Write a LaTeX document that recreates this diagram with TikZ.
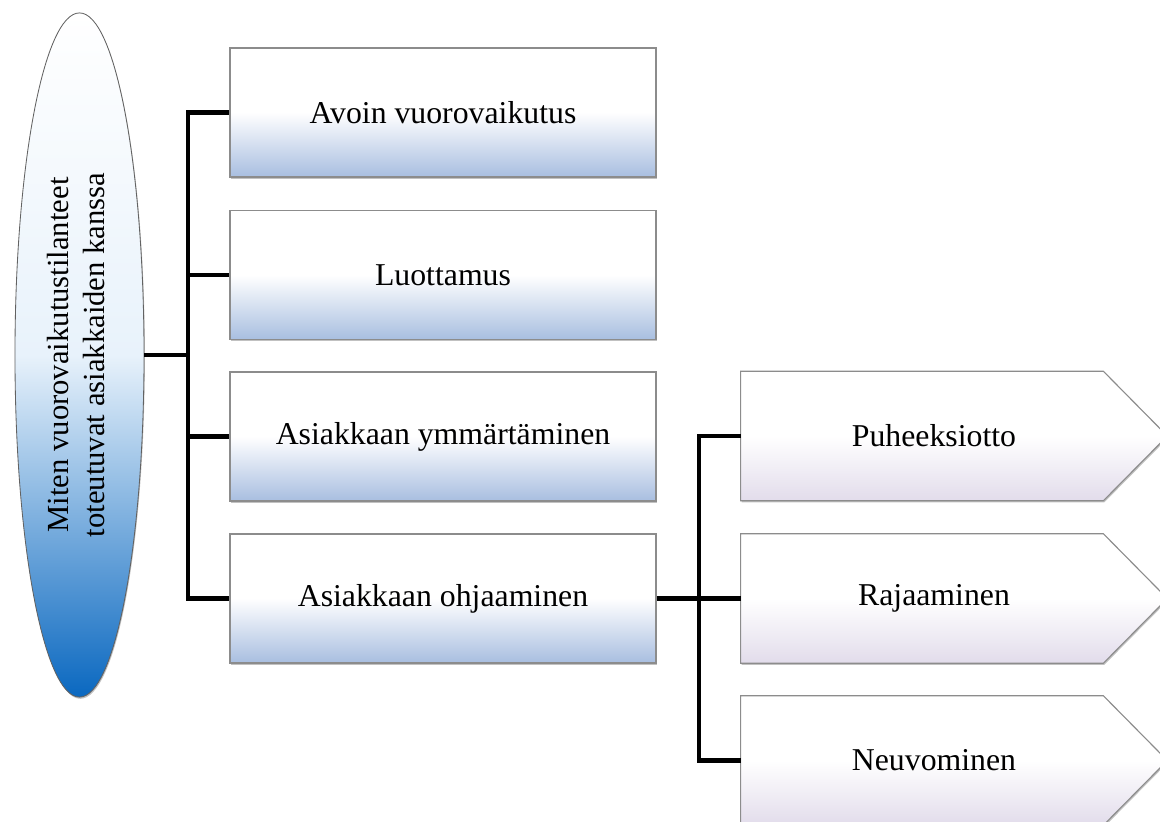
\documentclass[tikz,border=0pt]{standalone}
\usepackage{fontspec}
\setmainfont{Liberation Serif}
\usepackage{tikz}
\usetikzlibrary{positioning,shapes,shadows,backgrounds}
\definecolor{boxblue}{RGB}{168,190,224}
\definecolor{boxlila}{RGB}{226,220,235}
\definecolor{ellblue}{RGB}{10,104,192}
\definecolor{ellpale}{RGB}{232,242,251}
\definecolor{rim}{RGB}{140,140,140}

\begin{document}
\begin{tikzpicture}[x=0.025cm, y=-0.025cm,
  txt/.style={font=\fontsize{22.6}{25.6}\selectfont},
  shd/.style={drop shadow={shadow xshift=0.6pt, shadow yshift=-1.2pt, opacity=.35, fill=black!70}},
  quest/.style={ellipse, draw=rim!70!black, line width=0.6pt, top color=white, bottom color=ellblue, middle color=ellpale, minimum width=3.225cm, minimum height=17.1cm, inner sep=0pt, font=\fontsize{21.8}{25.4}\selectfont, shd},
  box/.style={rectangle, draw=rim, line width=0.8pt, top color=white, bottom color=boxblue, middle color=white, minimum width=10.65cm, minimum height=3.225cm, inner sep=0pt, txt, shd},
  sig/.style={rectangle, minimum width=9.65cm, minimum height=3.225cm, inner sep=0pt, txt},
  sigfill/.style={draw=rim, line width=0.8pt, top color=white, bottom color=boxlila, middle color=white, shd},
  conn/.style={line width=3.2pt, line join=miter}]
\useasboundingbox (0,0) rectangle (1160,822);
\clip (0,0) rectangle (1160,822);

%question
\node[quest] (q) at (79.5,355) {\rotatebox{90}{\begin{tabular}{@{}c@{}}Miten vuorovaikutustilanteet\\ toteutuvat asiakkaiden kanssa\end{tabular}}};

%first level
\node[box] (a1) at (443,112.5) {Avoin vuorovaikutus};
\node[box] (a2) at (443,275) {Luottamus};
\node[box] (a3) at (443,436.5) {Asiakkaan ymmärtäminen};
\node[box] (a4) at (443,598.5) {Asiakkaan ohjaaminen};

%second level
\node[sig] (b1) at (934,436) {Puheeksiotto};
\node[sig] (b2) at (934,598.5) {Rajaaminen};
\node[sig] (b3) at (934,760.5) {Neuvominen};
\begin{pgfonlayer}{background}
\foreach \n in {b1,b2,b3}{
  \path[sigfill] (\n.north west) -- ([xshift=-0.6cm]\n.north east) -- ([xshift=1cm]\n.east)
    -- ([xshift=-0.6cm]\n.south east) -- (\n.south west) -- cycle;}
\end{pgfonlayer}

%connectors
\coordinate (j1) at (188,355);
\coordinate (j2) at (699,598.5);
\draw[conn] (q.east) -- (j1);
\foreach \n in {a1,a2,a3,a4}{\draw[conn] (j1) |- (\n.west);}
\draw[conn] (a4.east) -- (j2);
\foreach \n in {b1,b2,b3}{\draw[conn] (j2) |- (\n.west);}
\end{tikzpicture}
\end{document}
